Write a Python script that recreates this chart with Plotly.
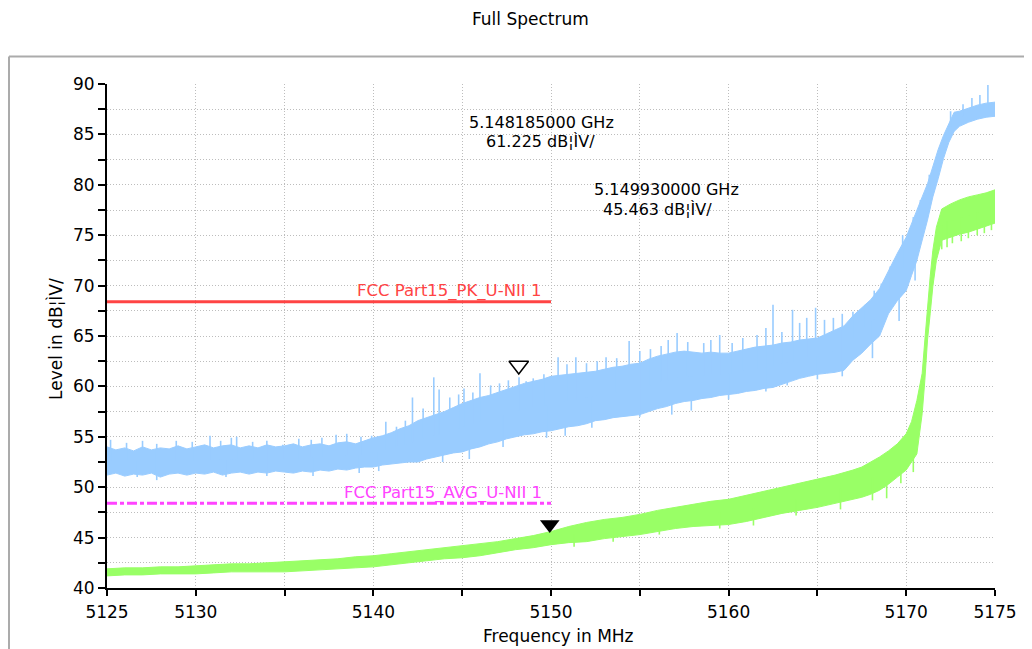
import plotly.graph_objects as go

# ------------------------------------------------------------------ data
title_text = "Full Spectrum"
x_title = "Frequency in MHz"
y_title = "Level in dB\u00a6\u00ccV/"

# Peak detector trace (blue): lower / upper edge of the noise band
pk_freq = [5125.0, 5125.5, 5126.0, 5126.5, 5127.0, 5127.5, 5128.0, 5128.5, 5129.0, 5129.5,
           5130.0, 5130.5, 5131.0, 5131.5, 5132.0, 5132.5, 5133.0, 5133.5, 5134.0, 5134.5,
           5135.0, 5135.5, 5136.0, 5136.5, 5137.0, 5137.5, 5138.0, 5138.5, 5139.0, 5139.5,
           5140.0, 5140.5, 5141.0, 5141.5, 5142.0, 5142.5, 5143.0, 5143.5, 5144.0, 5144.5,
           5145.0, 5145.5, 5146.0, 5146.5, 5147.0, 5147.5, 5148.0, 5148.5, 5149.0, 5149.5,
           5150.0, 5150.5, 5151.0, 5151.5, 5152.0, 5152.5, 5153.0, 5153.5, 5154.0, 5154.5,
           5155.0, 5155.5, 5156.0, 5156.5, 5157.0, 5157.5, 5158.0, 5158.5, 5159.0, 5159.5,
           5160.0, 5160.5, 5161.0, 5161.5, 5162.0, 5162.5, 5163.0, 5163.5, 5164.0, 5164.5,
           5165.0, 5165.5, 5166.0, 5166.5, 5167.0, 5167.5, 5168.0, 5168.5, 5169.0, 5169.5,
           5170.0, 5170.3, 5170.6, 5170.9, 5171.2, 5171.5, 5171.8, 5172.1, 5172.4, 5172.7,
           5173.0, 5173.5, 5174.0, 5174.5, 5175.0]
pk_low = [51.2, 51.4, 51.1, 51.3, 51.2, 51.4, 51.0, 51.3, 51.4, 51.2,
          51.4, 51.3, 51.5, 51.2, 51.4, 51.5, 51.3, 51.5, 51.4, 51.6,
          51.5, 51.4, 51.6, 51.5, 51.7, 51.6, 51.8, 51.7, 51.9, 52.0,
          52.0, 52.2, 52.3, 52.4, 52.5, 52.5, 52.8, 53.0, 53.2, 53.4,
          53.5, 53.8, 54.0, 54.3, 54.5, 54.8, 55.0, 55.2, 55.3, 55.5,
          55.6, 55.8, 56.0, 56.1, 56.3, 56.6, 56.7, 56.9, 57.0, 57.1,
          57.2, 57.5, 57.8, 58.0, 58.3, 58.5, 58.6, 58.8, 58.9, 59.1,
          59.2, 59.3, 59.5, 59.6, 59.8, 59.9, 60.2, 60.5, 60.8, 61.0,
          61.2, 61.3, 61.4, 61.6, 62.6, 63.3, 64.2, 65.0, 67.2, 68.5,
          69.5, 71.0, 72.5, 74.5, 76.5, 78.8, 80.6, 82.6, 84.2, 85.3,
          85.8, 86.2, 86.5, 86.7, 86.8]
pk_high = [54.0, 53.7, 53.9, 53.6, 54.0, 53.7, 53.9, 53.8, 54.1, 53.8,
           54.0, 54.2, 53.9, 54.1, 54.2, 53.9, 54.1, 53.9, 54.2, 54.0,
           54.1, 54.3, 54.0, 54.2, 54.3, 54.1, 54.4, 54.5, 54.3, 54.6,
           54.9, 55.1, 55.4, 55.8, 56.1, 56.6, 56.9, 57.2, 57.5, 57.9,
           58.3, 58.6, 58.9, 59.1, 59.4, 59.7, 60.0, 60.3, 60.5, 60.7,
           61.0, 61.1, 61.2, 61.3, 61.4, 61.5, 61.7, 61.9, 62.0, 62.2,
           62.3, 62.7, 63.0, 63.2, 63.4, 63.5, 63.4, 63.3, 63.4, 63.3,
           63.3, 63.5, 63.7, 63.9, 64.0, 64.1, 64.3, 64.4, 64.6, 64.7,
           64.8, 65.2, 65.6, 66.0, 67.0, 67.8, 68.6, 69.7, 71.5, 73.2,
           74.8, 76.2, 77.5, 78.8, 80.1, 81.8, 83.5, 84.9, 86.0, 87.2,
           87.3, 87.6, 87.9, 88.1, 88.2]

# Isolated upward peaks of the blue trace: frequency, level inside band, peak level
pk_spike_freq = [5125.2, 5126.1, 5127.0, 5127.8, 5128.9, 5129.8, 5130.8, 5131.4, 5132.0, 5132.3,
                 5133.2, 5134.0, 5134.9, 5135.8, 5136.5, 5137.1, 5137.9, 5138.5, 5139.3, 5139.9,
                 5140.7, 5141.3, 5141.8, 5142.2, 5142.8, 5143.4, 5143.7, 5144.3, 5144.8, 5145.1,
                 5145.6, 5146.0, 5146.6, 5147.1, 5147.6, 5148.2, 5148.6, 5149.0, 5149.6, 5150.4,
                 5150.9, 5151.4, 5152.0, 5152.6, 5153.1, 5153.7, 5154.4, 5155.0, 5155.6, 5156.2,
                 5156.6, 5157.1, 5157.7, 5158.6, 5159.0, 5159.5, 5160.2, 5160.8, 5161.6, 5162.1,
                 5162.5, 5163.0, 5163.6, 5164.0, 5164.4, 5164.9, 5165.4, 5165.9, 5166.4, 5167.0,
                 5167.7, 5168.2, 5168.6, 5169.1, 5169.6, 5169.8, 5170.4, 5170.8, 5171.3, 5172.5,
                 5173.2, 5173.7, 5174.15, 5174.6]
pk_spike_base = [52.6, 52.6, 52.6, 52.6, 52.6, 52.6, 52.7, 52.7, 52.7, 52.7,
                 52.7, 52.8, 52.8, 52.8, 52.9, 53.0, 53.0, 53.1, 53.2, 53.4,
                 53.7, 54.0, 54.2, 54.4, 54.8, 55.1, 55.2, 55.5, 55.8, 56.0,
                 56.3, 56.5, 56.8, 57.0, 57.3, 57.6, 57.8, 57.9, 58.1, 58.4,
                 58.6, 58.7, 58.9, 59.1, 59.2, 59.4, 59.6, 59.8, 60.1, 60.5,
                 60.6, 60.9, 61.0, 61.1, 61.2, 61.2, 61.3, 61.6, 61.8, 61.9,
                 62.0, 62.3, 62.5, 62.7, 62.9, 63.0, 63.3, 63.5, 63.8, 64.8,
                 65.8, 66.6, 67.5, 69.5, 71.0, 71.8, 74.0, 76.0, 79.0, 85.8,
                 86.8, 87.0, 87.3, 87.4]
pk_spike_top = [54.7, 54.4, 54.6, 54.3, 54.6, 54.5, 55.1, 54.6, 54.9, 55.0,
                54.5, 54.6, 54.2, 54.8, 54.7, 54.9, 55.2, 55.3, 55.0, 55.1,
                56.5, 56.0, 56.6, 58.9, 57.8, 60.9, 59.7, 58.9, 59.2, 59.8,
                59.4, 61.3, 60.1, 60.3, 60.6, 60.9, 60.5, 60.8, 61.2, 62.9,
                62.2, 62.9, 62.3, 62.5, 62.9, 62.8, 64.5, 63.5, 63.7, 64.0,
                64.6, 65.3, 64.4, 64.3, 64.6, 65.1, 64.3, 64.8, 65.1, 65.8,
                68.1, 65.4, 67.6, 66.3, 66.8, 67.8, 66.6, 66.8, 67.2, 67.4,
                68.1, 69.5, 70.2, 71.9, 73.3, 75.0, 76.8, 78.5, 81.0, 87.3,
                88.0, 88.6, 88.9, 89.9]

# Isolated downward dips of the blue trace
pk_dip_freq = [5126.7, 5127.8, 5131.7, 5134.0, 5136.6, 5139.2, 5140.3, 5143.9, 5145.4, 5147.3,
               5149.75, 5150.8, 5152.3, 5155.0, 5156.8, 5157.9, 5160.0, 5162.1, 5163.3, 5165.0,
               5166.4, 5168.1, 5169.6, 5170.5]
pk_dip_base = [52.6, 52.6, 52.7, 52.8, 52.9, 53.2, 53.5, 55.2, 56.2, 57.1,
               58.1, 58.5, 59.0, 59.8, 60.6, 61.0, 61.3, 61.9, 62.4, 63.0,
               63.8, 66.4, 71.0, 74.5]
pk_dip_bottom = [51.0, 50.7, 51.0, 51.1, 51.1, 51.4, 51.6, 52.5, 52.8, 54.0,
                 54.9, 55.1, 55.9, 57.0, 57.2, 57.6, 58.7, 59.5, 60.1, 60.7,
                 61.0, 62.8, 66.5, 70.5]

# Average detector trace (green)
av_freq = [5125, 5126, 5127, 5128, 5129, 5130, 5131, 5132, 5133, 5134,
           5135, 5136, 5137, 5138, 5139, 5140, 5141, 5142, 5143, 5144,
           5145, 5146, 5147, 5148, 5149, 5150, 5151, 5152, 5153, 5154,
           5155, 5156, 5157, 5158, 5159, 5160, 5161, 5162, 5163, 5164,
           5165, 5166, 5167, 5167.5, 5168, 5168.5, 5169, 5169.5, 5170, 5170.3,
           5170.6, 5170.9, 5171.05, 5171.2, 5171.35, 5171.5, 5171.7, 5172.0, 5172.5, 5173.0,
           5173.5, 5174.0, 5174.5, 5175.0]
av_low = [41.2, 41.3, 41.3, 41.4, 41.4, 41.4, 41.5, 41.6, 41.6, 41.6,
          41.6, 41.7, 41.8, 41.9, 42.0, 42.1, 42.3, 42.5, 42.7, 42.9,
          43.0, 43.2, 43.5, 43.8, 44.0, 44.3, 44.5, 44.6, 44.9, 45.1,
          45.3, 45.6, 45.9, 46.1, 46.2, 46.3, 46.6, 47.0, 47.4, 47.7,
          48.0, 48.4, 48.8, 49.0, 49.3, 49.7, 50.3, 51.0, 51.7, 52.5,
          53.3, 57.3, 60.6, 64.6, 67.2, 69.9, 72.5, 74.5, 74.8, 75.1,
          75.3, 75.6, 75.9, 76.2]
av_high = [41.9, 42.0, 42.0, 42.1, 42.1, 42.2, 42.3, 42.4, 42.4, 42.5,
           42.6, 42.7, 42.8, 42.9, 43.1, 43.2, 43.4, 43.6, 43.8, 44.0,
           44.2, 44.4, 44.6, 44.9, 45.2, 45.6, 46.1, 46.5, 46.8, 47.0,
           47.3, 47.7, 48.0, 48.3, 48.6, 48.8, 49.2, 49.6, 50.0, 50.4,
           50.8, 51.2, 51.7, 52.0, 52.5, 53.0, 53.6, 54.3, 55.3, 56.5,
           58.6, 61.3, 64.6, 67.9, 70.9, 73.5, 75.8, 77.6, 78.1, 78.5,
           78.8, 79.0, 79.2, 79.5]
av_dip_freq = [5151.3, 5153.5, 5156.1, 5159.5, 5161.4, 5163.8, 5166.3, 5168.1, 5168.9, 5169.7,
               5170.4, 5172.0, 5172.3, 5172.6, 5173.1, 5173.5, 5174.0, 5174.4, 5174.8]
av_dip_base = [45.3, 45.9, 46.6, 47.5, 47.9, 48.8, 49.9, 51.0, 51.8, 52.9,
               54.6, 76.0, 76.4, 76.5, 76.8, 77.0, 77.3, 77.5, 77.8]
av_dip_bottom = [44.1, 44.6, 45.3, 45.9, 46.2, 47.2, 47.8, 48.7, 48.9, 50.4,
                 51.5, 73.6, 73.8, 74.2, 74.4, 74.7, 75.0, 75.2, 75.5]

# Limit lines
limit_freq = [5125, 5150]
pk_limit = [68.4, 68.4]
av_limit = [48.4, 48.4]
pk_limit_name = "FCC Part15_PK_U-NII 1"
av_limit_name = "FCC Part15_AVG_U-NII 1"

# Markers
marker_freq = [5148.185, 5149.930]
marker_level = [61.225, 45.463]
marker_line1 = ["5.148185000 GHz", "5.149930000 GHz"]
marker_line2 = ["61.225 dB\u00a6\u00ccV/", "45.463 dB\u00a6\u00ccV/"]

# Axes
x_range = [5125, 5175]
y_range = [40, 90]
x_tick_vals = [5125, 5130, 5135, 5140, 5145, 5150, 5155, 5160, 5165, 5170, 5175]
x_tick_text = ["5125", "5130", "", "5140", "", "5150", "", "5160", "", "5170", "5175"]
y_tick_vals = [40, 42.5, 45, 47.5, 50, 52.5, 55, 57.5, 60, 62.5, 65, 67.5, 70, 72.5, 75,
               77.5, 80, 82.5, 85, 87.5, 90]
y_tick_text = ["40", "", "45", "", "50", "", "55", "", "60", "", "65", "", "70", "", "75",
               "", "80", "", "85", "", "90"]
y_minor_vals = [42.5, 47.5, 52.5, 57.5, 62.5, 67.5, 72.5, 77.5, 82.5, 87.5, 90]

# ------------------------------------------------------------------ style
# the page body adds an 8px offset; target positions below are window pixels
OFF = 8
WIN_W, WIN_H = 1032, 649
PLOT_L, PLOT_R, PLOT_T, PLOT_B = 107, 995, 84, 588   # window pixels of plot area
W, H = WIN_W - OFF, WIN_H - OFF
ML, MT = PLOT_L - OFF, PLOT_T - OFF
MR, MB = W - (PLOT_R - OFF), H - (PLOT_B - OFF)
PW, PH = PLOT_R - PLOT_L, PLOT_B - PLOT_T
FONT = "DejaVu Sans"
BLUE = "#99CCFF"
GREEN = "#99FF66"
RED = "#FF4444"
MAGENTA = "#FF44FF"
MARKER_SIZE = 17


def px_x(px):
    return (px - PLOT_L) / PW


def px_y(py):
    return (PLOT_B - py) / PH


def segments(freqs, starts, ends):
    xs, ys = [], []
    for f, a, b in zip(freqs, starts, ends):
        xs += [f, f, None]
        ys += [a, b, None]
    return xs, ys


fig = go.Figure()

# blue band
fig.add_trace(go.Scatter(
    x=pk_freq + pk_freq[::-1], y=pk_high + pk_low[::-1],
    mode="lines", fill="toself", fillcolor=BLUE,
    line=dict(color=BLUE, width=1), hoverinfo="skip", showlegend=False))
sx, sy = segments(pk_spike_freq, pk_spike_base, pk_spike_top)
fig.add_trace(go.Scatter(x=sx, y=sy, mode="lines", line=dict(color=BLUE, width=1.6),
                         hoverinfo="skip", showlegend=False))
sx, sy = segments(pk_dip_freq, pk_dip_base, pk_dip_bottom)
fig.add_trace(go.Scatter(x=sx, y=sy, mode="lines", line=dict(color=BLUE, width=1.6),
                         hoverinfo="skip", showlegend=False))

# green band
fig.add_trace(go.Scatter(
    x=av_freq + av_freq[::-1], y=av_high + av_low[::-1],
    mode="lines", fill="toself", fillcolor=GREEN,
    line=dict(color=GREEN, width=1), hoverinfo="skip", showlegend=False))
sx, sy = segments(av_dip_freq, av_dip_base, av_dip_bottom)
fig.add_trace(go.Scatter(x=sx, y=sy, mode="lines", line=dict(color=GREEN, width=1.6),
                         hoverinfo="skip", showlegend=False))

# limit lines
fig.add_trace(go.Scatter(x=limit_freq, y=pk_limit, mode="lines",
                         line=dict(color=RED, width=3), showlegend=False))
fig.add_trace(go.Scatter(x=limit_freq, y=av_limit, mode="lines",
                         line=dict(color=MAGENTA, width=3, dash="10px,3px,4px,3px"),
                         showlegend=False))

# markers (tip of the triangle on the measured point)
tip = (MARKER_SIZE / 2) / (PH / (y_range[1] - y_range[0]))
fig.add_trace(go.Scatter(x=[marker_freq[0]], y=[marker_level[0] + tip], mode="markers",
                         marker=dict(symbol="triangle-down-open", size=MARKER_SIZE,
                                     color="black", line=dict(color="black", width=1.5)),
                         showlegend=False))
fig.add_trace(go.Scatter(x=[marker_freq[1]], y=[marker_level[1] + tip], mode="markers",
                         marker=dict(symbol="triangle-down", size=MARKER_SIZE, color="black",
                                     line=dict(width=0)),
                         showlegend=False))

grid = dict(showgrid=True, gridcolor="#bdbdbd", griddash="1px,2px", gridwidth=1,
            zeroline=False)
tickfont = dict(family=FONT, size=17, color="black")

fig.update_layout(
    width=W, height=H,
    margin=dict(l=ML, r=MR, t=MT, b=MB, pad=0),
    paper_bgcolor="white", plot_bgcolor="white",
    showlegend=False,
    font=dict(family=FONT, color="black"),
    xaxis=dict(range=x_range, tickvals=x_tick_vals, ticktext=x_tick_text,
               ticks="outside", ticklen=6, tickwidth=2, tickcolor="black",
               showline=True, linecolor="black", linewidth=2,
               tickfont=tickfont, ticklabelstandoff=2, **grid),
    yaxis=dict(range=y_range, tickvals=y_tick_vals, ticktext=y_tick_text,
               ticks="outside", ticklen=7, tickwidth=2, tickcolor="black",
               showline=True, linecolor="black", linewidth=2,
               tickfont=tickfont, **grid),
    xaxis2=dict(range=x_range, overlaying="x", anchor="y", side="bottom",
                tickvals=x_tick_vals, ticks="inside", ticklen=6, tickwidth=2,
                tickcolor="black", showticklabels=False, showgrid=False,
                zeroline=False, showline=False),
    yaxis2=dict(range=y_range, overlaying="y", anchor="x", side="left",
                tickvals=y_minor_vals, ticks="inside", ticklen=6, tickwidth=2,
                tickcolor="black", showticklabels=False, showgrid=False,
                zeroline=False, showline=False),
)

annotations = [
    dict(text=title_text, x=px_x(530), y=px_y(19), font=dict(size=17)),
    dict(text=x_title, x=px_x(558), y=px_y(636), font=dict(size=17)),
    dict(text=y_title, x=px_x(55), y=px_y(339), textangle=-90, font=dict(size=17)),
    dict(text=pk_limit_name, x=px_x(449), y=px_y(291), font=dict(size=16.5, color=RED)),
    dict(text=av_limit_name, x=px_x(443), y=px_y(493), font=dict(size=16.5, color=MAGENTA)),
    dict(text=marker_line1[0], x=px_x(541), y=px_y(123), font=dict(size=16)),
    dict(text=marker_line2[0], x=px_x(540), y=px_y(141), font=dict(size=16)),
    dict(text=marker_line1[1], x=px_x(666), y=px_y(189), font=dict(size=16)),
    dict(text=marker_line2[1], x=px_x(657), y=px_y(209), font=dict(size=16)),
]
for a in annotations:
    a.update(xref="paper", yref="paper", xanchor="center", yanchor="middle",
             showarrow=False)
    a["font"].setdefault("family", FONT)
    a["font"].setdefault("color", "black")
fig.update_layout(annotations=annotations)

# outer grey frame (top and left edges); the leftmost visible column is x = 8
frame = dict(type="line", xref="paper", yref="paper", line=dict(color="#ababab", width=2),
             layer="above")
fig.add_shape(**frame, x0=px_x(9), x1=px_x(WIN_W + 10), y0=px_y(56.5), y1=px_y(56.5))
fig.add_shape(**frame, x0=px_x(9), x1=px_x(9), y0=px_y(56.5), y1=px_y(WIN_H + 10))

fig.write_html("out.html")
